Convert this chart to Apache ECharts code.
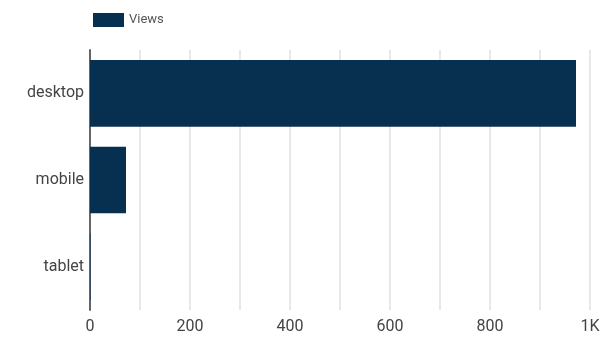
<!doctype html>
<html>
	<head>
		<meta charset="utf-8">
		<title>views</title>
		<style>
			html, body { margin: 0; padding: 0; background: #fff; }
			#main { width: 608px; height: 338px; }
		</style>
	</head>
	<body>
		<div id="main"></div>
		<script src="https://cdn.jsdelivr.net/npm/echarts@6/dist/echarts.min.js"></script>
		<script>
			var categories = ['desktop', 'mobile', 'tablet'];
			var views = [972, 72, 1];
			var tickValues = [0, 200, 400, 600, 800, 1000];

			var myChart = echarts.init(document.getElementById('main'));

			var option = {
				animation: false,
				legend: {
					data: ['Views'],
					icon: 'rect',
					left: 88,
					top: 8,
					itemWidth: 31,
					itemHeight: 14,
					itemGap: 6,
					textStyle: { color: '#555', fontSize: 13, fontFamily: 'Roboto' }
				},
				grid: {
					left: 90,
					right: 18,
					top: 50,
					bottom: 28,
					containLabel: false
				},
				xAxis: {
					type: 'value',
					min: 0,
					max: 1000,
					interval: 100,
					axisLine: { show: false },
					axisTick: { show: false },
					splitLine: { lineStyle: { color: '#e8e8e8', width: 2 } },
					axisLabel: {
						color: '#444',
						fontSize: 16,
						fontFamily: 'Roboto',
						margin: 9,
						formatter: function (v) {
							if (tickValues.indexOf(v) < 0) return '';
							return v >= 1000 ? (v / 1000) + 'K' : String(v);
						}
					}
				},
				yAxis: {
					type: 'category',
					data: categories,
					inverse: true,
					axisLine: { show: true, lineStyle: { color: '#666', width: 2 } },
					axisTick: { show: false },
					axisLabel: { color: '#444', fontSize: 16, fontFamily: 'Roboto', margin: 6 }
				},
				series: [{
					name: 'Views',
					type: 'bar',
					data: views,
					barCategoryGap: '23%',
					itemStyle: { color: '#062f50' }
				}]
			};
			myChart.setOption(option);
		</script>
	</body>
</html>
